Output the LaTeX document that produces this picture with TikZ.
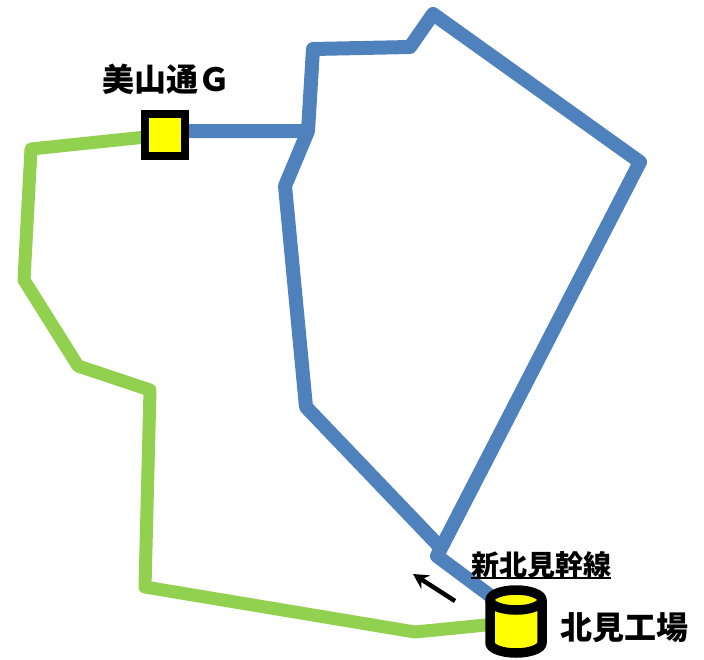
\documentclass[tikz,border=0pt]{standalone}
\usepackage{fontspec}
\usepackage{tikz}
\usetikzlibrary{backgrounds}
\usetikzlibrary{arrows.meta}
\newfontfamily\cjkfont{Noto Sans CJK JP}
\definecolor{lineblue}{RGB}{79,129,189}
\definecolor{linegreen}{RGB}{146,208,80}
\definecolor{markyellow}{RGB}{255,255,0}
\newcommand{\ulabel}[1]{\vtop{\hbox{#1}\kern-1pt\hrule height 2pt}}

\begin{document}
\begin{tikzpicture}[x=1pt,y=-1pt,
	blue line/.style={draw=lineblue,line width=14pt,line join=round},
	green line/.style={draw=linegreen,line width=13pt,line join=round},
	main label/.style={font=\cjkfont\bfseries\fontsize{32}{32}\selectfont,inner sep=0pt},
	small label/.style={font=\cjkfont\bfseries\fontsize{28}{28}\selectfont,inner sep=0pt},
	plant shape/.style={draw=black,fill=markyellow,line width=9.5pt,line join=round}]
	\useasboundingbox (0,0) rectangle (704,659);
	\node[draw=black,fill=markyellow,line width=8.5pt,minimum width=40pt,minimum height=42pt,inner sep=0pt,outer sep=0pt] (mine) at (165,135) {};
	\coordinate (plant) at (516,622);
	\coordinate (plant top) at (490,600);
	\coordinate (plant low) at (490,643);
	\draw[plant shape] (plant low) arc[start angle=180,end angle=360,x radius=26pt,y radius=10pt]
		-- ++(0,-43) arc[start angle=0,end angle=180,x radius=26pt,y radius=10pt] -- cycle;
	\draw[plant shape] (plant top) arc[start angle=180,end angle=360,x radius=26pt,y radius=10pt];
	\node[main label] (minelabel) at (166,79) {美山通Ｇ};
	\node[main label] (plantlabel) at (624,628) {北見工場};
	\node[small label] (linelabel) at (541,565) {\ulabel{新北見幹線}};
	\coordinate (b1) at (308,131);
	\coordinate (b2) at (313,49);
	\coordinate (b3) at (410,47);
	\coordinate (b4) at (433,14);
	\coordinate (b5) at (640,162);
	\coordinate (b6) at (437,556);
	\coordinate (b7) at (285,186);
	\coordinate (b8) at (306,407);
	\coordinate (b9) at (439,546);
	\coordinate (b10) at (492,597);
	\coordinate (g1) at (415,632);
	\coordinate (g2) at (145,587);
	\coordinate (g3) at (150,390);
	\coordinate (g4) at (78,366);
	\coordinate (g5) at (24,280);
	\coordinate (g6) at (31,149);
	\coordinate (a1) at (455,601);
	\coordinate (a2) at (413,574);
	\begin{scope}[on background layer]
	\draw[blue line] (mine.center |- b1) -- (b1) -- (b2) -- (b3) -- (b4) -- (b5) -- (b6) -- (b10);
	\draw[blue line] (b1) -- (b7) -- (b8) -- (b9);
	\draw[green line] (plant) -- (g1) -- (g2) -- (g3) -- (g4) -- (g5) -- (g6) -- (mine.center);
	\end{scope}
	\draw[-{Stealth[length=15pt,width=16pt]},line width=4.5pt] (a1) -- (a2);
\end{tikzpicture}
\end{document}
